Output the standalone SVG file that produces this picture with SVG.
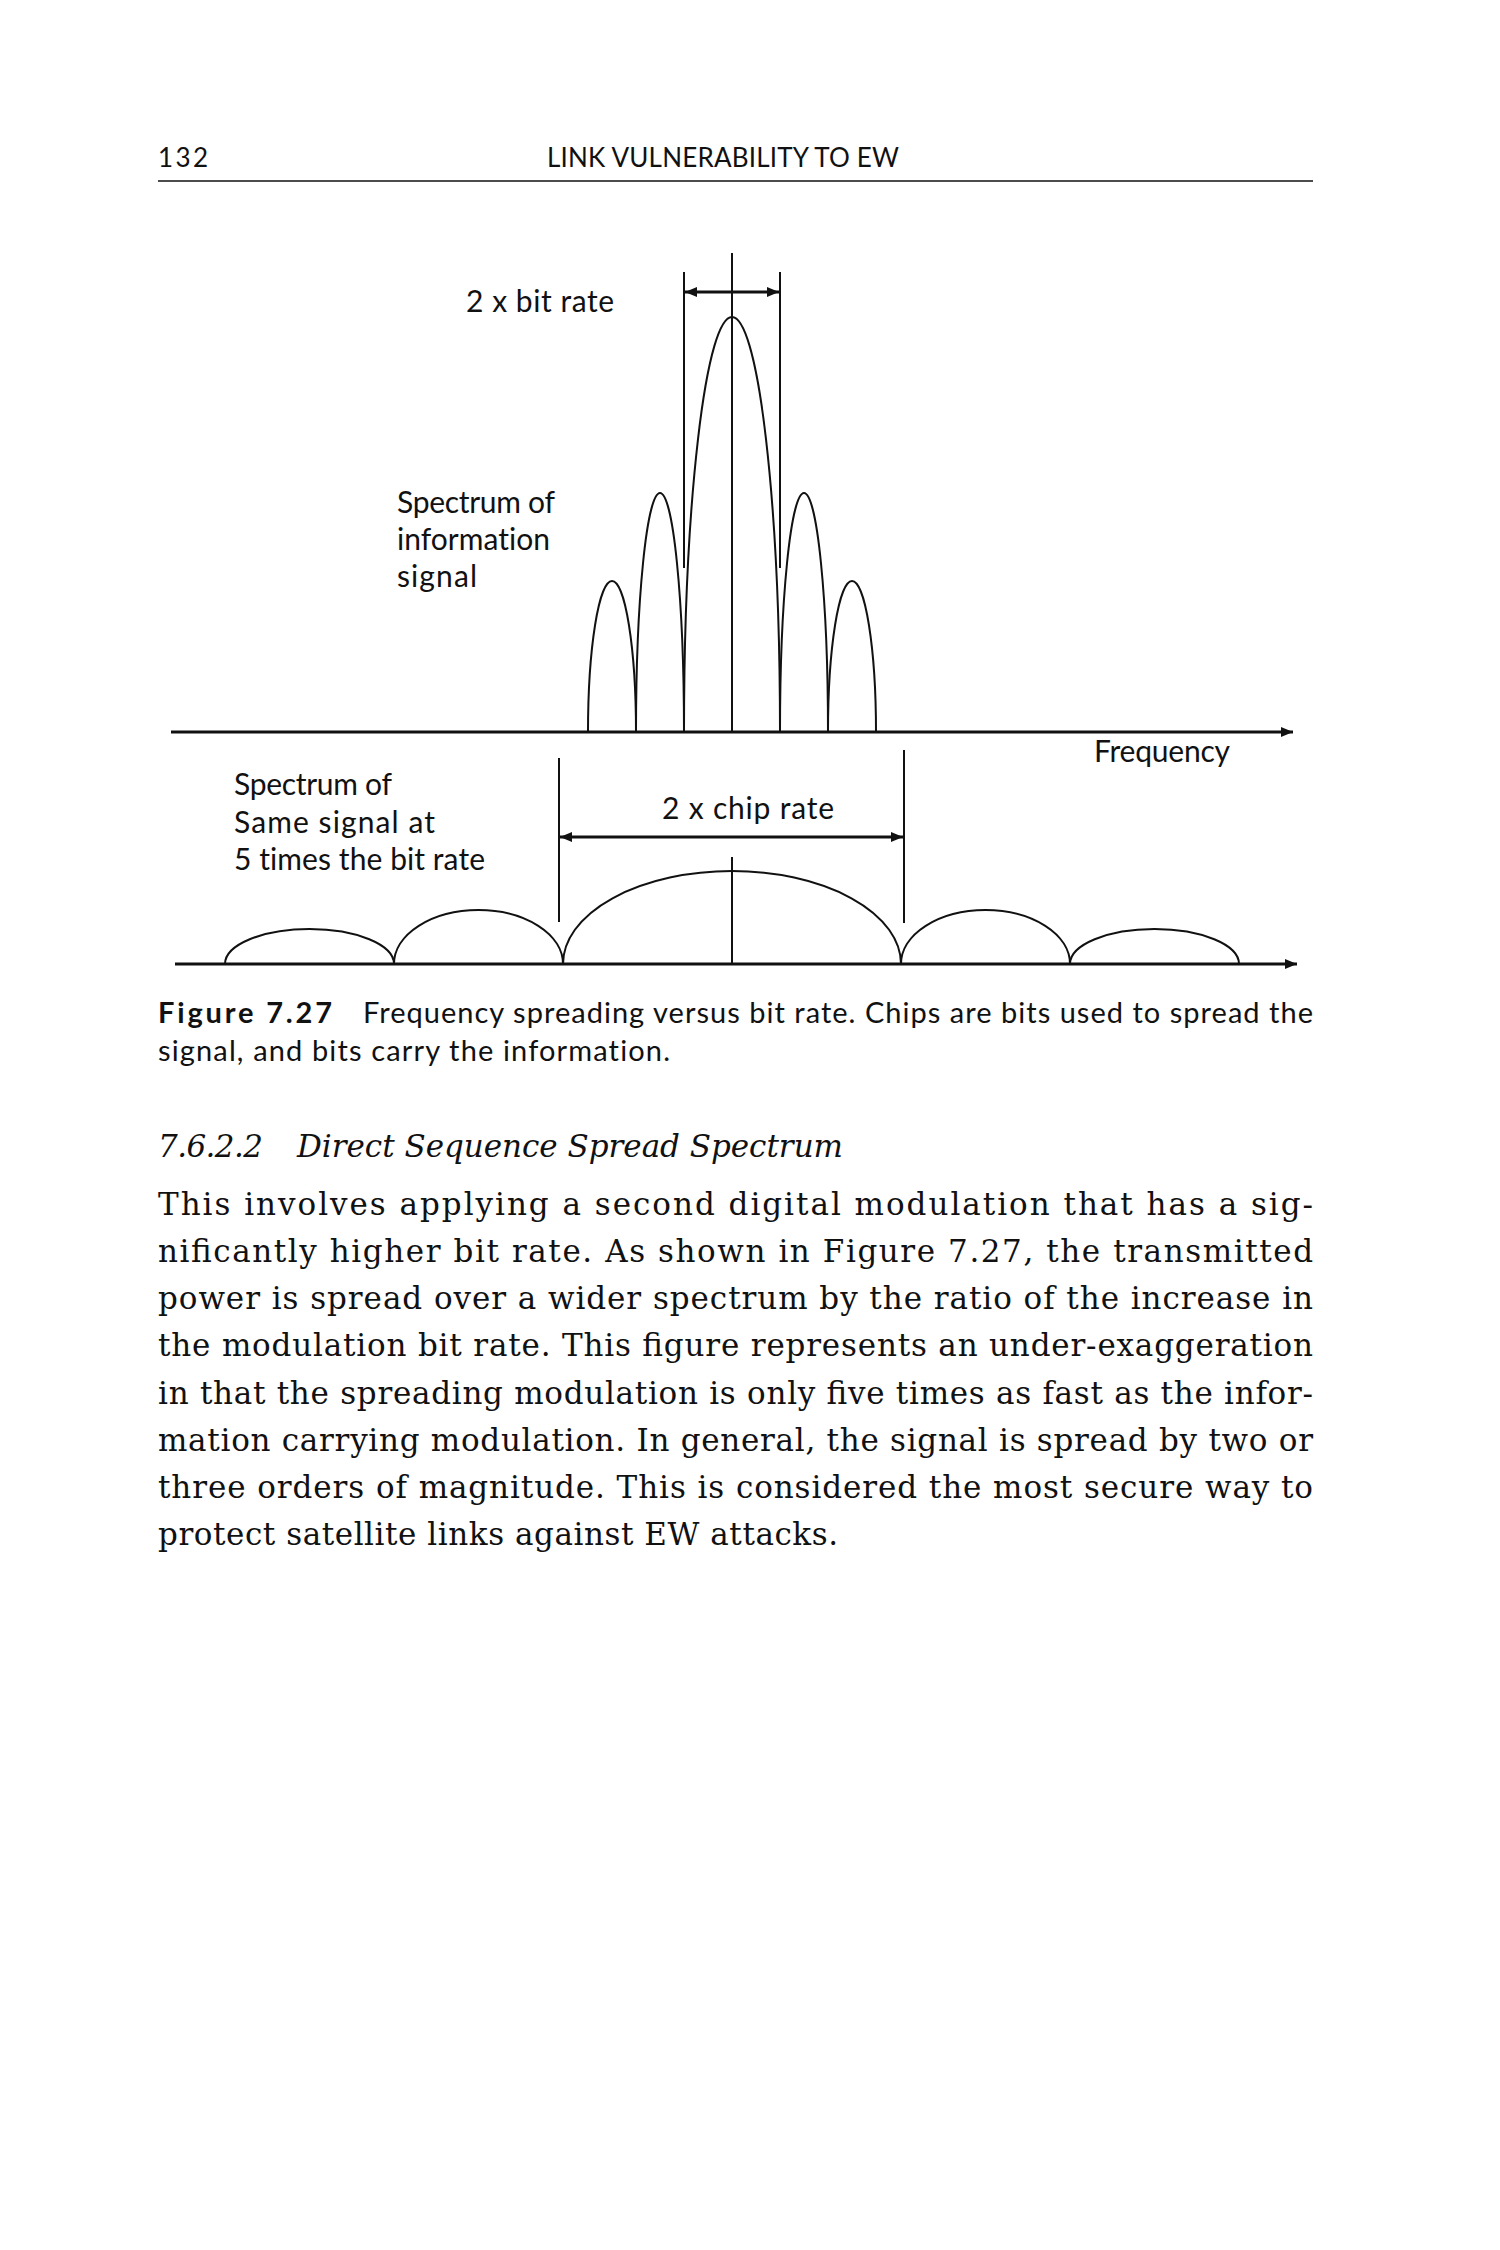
<svg xmlns="http://www.w3.org/2000/svg" width="1500" height="2250" viewBox="0 0 1500 2250">
  <style>
    .sans { font-family: Lato, "Liberation Sans", sans-serif; fill: #111; font-variant-ligatures: none; }
    .lbl { font-size: 30px; }
    .hdr { font-size: 26px; }
    .cap { font-size: 29px; }
    .body { font-family: "DejaVu Serif", "Liberation Serif", serif; font-size: 31px; fill: #111; }
    .ital { font-family: "DejaVu Serif", "Liberation Serif", serif; font-size: 31px; font-style: italic; fill: #111; }
    .ln { stroke: #111; stroke-width: 2; fill: none; }
    .axis { stroke: #111; stroke-width: 3; fill: none; }
    .dim { stroke: #111; stroke-width: 3; fill: none; }
    .lobe { stroke: #111; stroke-width: 2; fill: none; }
  </style>
  <defs>
    <marker id="ah" viewBox="0 0 12 10" refX="12" refY="5" markerUnits="userSpaceOnUse" markerWidth="12" markerHeight="10" orient="auto-start-reverse">
      <path d="M0,0 L12,5 L0,10 z" fill="#111"/>
    </marker>
  </defs>
  <rect width="1500" height="2250" fill="#fff"/>

  <g id="header">
    <text class="sans hdr" x="158" y="167" textLength="50">132</text>
    <text class="sans hdr" x="547" y="167" textLength="352">LINK VULNERABILITY TO EW</text>
    <line x1="158" y1="181" x2="1313" y2="181" stroke="#111" stroke-width="1.5"/>
  </g>

  <g id="top-spectrum">
    <path class="lobe" d="M588,732 A24,151 0 0 1 636,732"/>
    <path class="lobe" d="M636,732 A24,239 0 0 1 684,732"/>
    <path class="lobe" d="M684,732 A48,415 0 0 1 780,732"/>
    <path class="lobe" d="M780,732 A24,239 0 0 1 828,732"/>
    <path class="lobe" d="M828,732 A24,151 0 0 1 876,732"/>
    <text class="sans lbl" x="466" y="312" textLength="148">2 x bit rate</text>
    <text class="sans lbl" x="397" y="513" textLength="158">Spectrum of</text>
    <text class="sans lbl" x="397" y="550" textLength="153">information</text>
    <text class="sans lbl" x="397" y="587" textLength="80">signal</text>
    <text class="sans lbl" x="1094" y="762" textLength="136">Frequency</text>
  </g>

  <g id="bottom-spectrum">
    <path class="lobe" d="M225,964 A84.5,35 0 0 1 394,964"/>
    <path class="lobe" d="M394,964 A84.5,54 0 0 1 563,964"/>
    <path class="lobe" d="M563,964 A169,93 0 0 1 901,964"/>
    <path class="lobe" d="M901,964 A84.5,54 0 0 1 1070,964"/>
    <path class="lobe" d="M1070,964 A84.5,35 0 0 1 1239,964"/>
    <text class="sans lbl" x="234" y="795" textLength="158">Spectrum of</text>
    <text class="sans lbl" x="234" y="833" textLength="201">Same signal at</text>
    <text class="sans lbl" x="234" y="870" textLength="251">5 times the bit rate</text>
    <text class="sans lbl" x="662" y="819" textLength="172">2 x chip rate</text>
  </g>

  <g id="connectors">
    <line class="axis" x1="171" y1="732" x2="1293" y2="732" marker-end="url(#ah)"/>
    <line class="axis" x1="175" y1="964" x2="1297" y2="964" marker-end="url(#ah)"/>
    <line class="ln" x1="732" y1="253" x2="732" y2="732"/>
    <line class="ln" x1="684" y1="272" x2="684" y2="568"/>
    <line class="ln" x1="780" y1="272" x2="780" y2="568"/>
    <line class="dim" x1="685" y1="292" x2="779" y2="292" marker-start="url(#ah)" marker-end="url(#ah)"/>
    <line class="ln" x1="732" y1="857" x2="732" y2="964"/>
    <line class="ln" x1="559" y1="758" x2="559" y2="922"/>
    <line class="ln" x1="904" y1="750" x2="904" y2="923"/>
    <line class="dim" x1="560" y1="837" x2="903" y2="837" marker-start="url(#ah)" marker-end="url(#ah)"/>
  </g>

  <g id="caption">
    <text class="sans cap" x="158" y="1023" font-weight="bold" font-size="31" textLength="174">Figure 7.27</text>
    <text class="sans cap" x="363" y="1023" textLength="950">Frequency spreading versus bit rate. Chips are bits used to spread the</text>
    <text class="sans cap" x="158" y="1061" textLength="512">signal, and bits carry the information.</text>
  </g>

  <g id="section">
    <text class="ital" x="158" y="1157" textLength="105">7.6.2.2</text>
    <text class="ital" x="297" y="1157" textLength="546">Direct Sequence Spread Spectrum</text>
    <text class="body" x="158" y="1215" textLength="1155">This involves applying a second digital modulation that has a sig-</text>
    <text class="body" x="158" y="1262" textLength="1155">nificantly higher bit rate. As shown in Figure 7.27, the transmitted</text>
    <text class="body" x="158" y="1309" textLength="1155">power is spread over a wider spectrum by the ratio of the increase in</text>
    <text class="body" x="158" y="1356" textLength="1155">the modulation bit rate. This figure represents an under-exaggeration</text>
    <text class="body" x="158" y="1404" textLength="1155">in that the spreading modulation is only five times as fast as the infor-</text>
    <text class="body" x="158" y="1451" textLength="1155">mation carrying modulation. In general, the signal is spread by two or</text>
    <text class="body" x="158" y="1498" textLength="1155">three orders of magnitude. This is considered the most secure way to</text>
    <text class="body" x="158" y="1545" textLength="680">protect satellite links against EW attacks.</text>
  </g>
</svg>
